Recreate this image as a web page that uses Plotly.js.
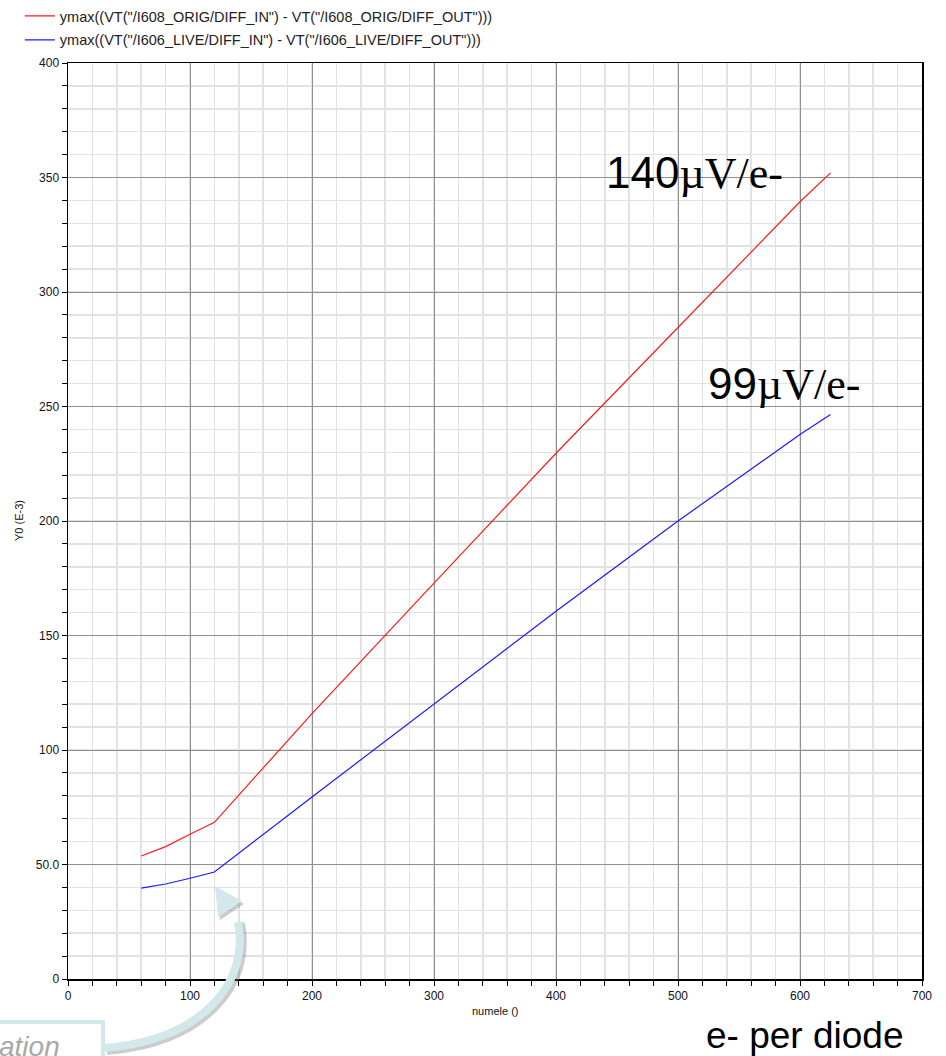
<!DOCTYPE html>
<html>
<head>
<meta charset="utf-8">
<script src="https://cdn.plot.ly/plotly-3.0.1.min.js"></script>
<style>
html,body{margin:0;padding:0;background:#fff;}
#chart{width:946px;height:1056px;}
</style>
</head>
<body>
<div id="chart"></div>
<script>
// ---- data ----
const origName = 'ymax((VT("/I608_ORIG/DIFF_IN") - VT("/I608_ORIG/DIFF_OUT")))';
const liveName = 'ymax((VT("/I606_LIVE/DIFF_IN") - VT("/I606_LIVE/DIFF_OUT")))';
const origX = [60, 80, 100, 120, 140, 200, 300, 400, 500, 600, 625];
const origY = [53.7, 57.8, 63.2, 68.4, 80.3, 115.9, 172.9, 229.6, 284.5, 339.4, 352];
const liveX = [60, 80, 100, 120, 200, 300, 400, 500, 600, 625];
const liveY = [39.7, 41.5, 44.0, 46.7, 79.5, 120.0, 160.6, 200.0, 237.8, 246.5];
const xTickVals = [0, 100, 200, 300, 400, 500, 600, 700];
const xTickText = ['0', '100', '200', '300', '400', '500', '600', '700'];
const yTickVals = [0, 50, 100, 150, 200, 250, 300, 350, 400];
const yTickText = ['0', '50.0', '100', '150', '200', '250', '300', '350', '400'];
const xTitle = 'numele ()';
const yTitle = 'Y0 (E-3)';
const origSlope = '140';
const liveSlope = '99';
const slopeUnit = 'µV/e-';
const xNote = 'e- per diode';
const calloutText = 'ation';

// ---- page geometry helpers (pixel -> paper) ----
const W = 946, H = 1056, ML = 68, MR = 24, MT = 63, MB = 77;
const PW = W - ML - MR, PH = H - MT - MB;
const px = x => (x - ML) / PW;
const py = y => (H - MB - y) / PH;
function pathPx(cmds) {
  return cmds.map(c => c[0] + c.slice(1).reduce((a, v, i) => {
    a.push(i % 2 === 0 ? px(v).toFixed(5) : py(v).toFixed(5)); return a;
  }, []).join(',')).join(' ');
}

const arrowBody = [['M',105,1048],['C',200,1040,250,985,238,922]];
const arrowHead = [['M',215,886],['L',242,901],['L',218,917],['Z']];
const arrowBodySh = [['M',107,1051],['C',203,1043,253,987,241,923]];
const arrowHeadSh = [['M',217,889],['L',244,904],['L',220,920],['Z']];

const traces = [
  {x: origX, y: origY, name: origName, type: 'scatter', mode: 'lines',
   line: {color: '#ff1a1a', width: 1.2}, legendgroup: 'a'},
  {x: liveX, y: liveY, name: liveName, type: 'scatter', mode: 'lines',
   line: {color: '#1a1aff', width: 1.2}, legendgroup: 'b'}
];

const serif = "'Liberation Serif','Times New Roman',serif";
const layout = {
  width: W, height: H,
  margin: {l: ML, r: MR, t: MT, b: MB, autoexpand: false},
  paper_bgcolor: '#fff', plot_bgcolor: '#fff',
  font: {family: 'Liberation Sans, Arial, sans-serif', color: '#111'},
  showlegend: true,
  legend: {xref: 'container', yref: 'container', x: 0.021, y: 1, xanchor: 'left', yanchor: 'top',
           font: {size: 14.5, color: '#222'}, itemwidth: 30, tracegroupgap: 2, bgcolor: 'rgba(0,0,0,0)'},
  xaxis: {
    range: [0, 700], tickvals: xTickVals, ticktext: xTickText, automargin: false,
    ticks: 'outside', ticklen: 5, tickcolor: '#000', tickfont: {size: 12, color: '#111'},
    showline: true, linecolor: '#000', linewidth: 1.5, mirror: true,
    showgrid: true, gridcolor: '#8f8f8f', gridwidth: 1, zeroline: false,
    minor: {dtick: 20, ticks: 'outside', ticklen: 5, tickcolor: '#000', showgrid: true, gridcolor: '#e2e2e2', gridwidth: 1.5},
    fixedrange: true
  },
  yaxis: {
    range: [0, 400], tickvals: yTickVals, ticktext: yTickText, automargin: false,
    ticks: 'outside', ticklen: 5, tickcolor: '#000', tickfont: {size: 12, color: '#111'},
    showline: true, linecolor: '#000', linewidth: 1.5, mirror: true,
    showgrid: true, gridcolor: '#8f8f8f', gridwidth: 1, zeroline: false,
    minor: {dtick: 10, ticks: 'outside', ticklen: 5, tickcolor: '#000', showgrid: true, gridcolor: '#e2e2e2', gridwidth: 1.5},
    fixedrange: true
  },
  shapes: [
    {type: 'rect', xref: 'paper', yref: 'paper', x0: px(-30), x1: px(103), y0: py(1022), y1: py(1090),
     line: {color: '#d3e8ea', width: 4}, fillcolor: '#ffffff', layer: 'above'},
    {type: 'path', xref: 'paper', yref: 'paper', path: pathPx(arrowBodySh),
     line: {color: 'rgba(110,110,110,0.35)', width: 8}, layer: 'above'},
    {type: 'path', xref: 'paper', yref: 'paper', path: pathPx(arrowHeadSh),
     line: {width: 0}, fillcolor: 'rgba(110,110,110,0.35)', layer: 'above'},
    {type: 'path', xref: 'paper', yref: 'paper', path: pathPx(arrowBody),
     line: {color: '#d3e8ea', width: 8}, layer: 'above'},
    {type: 'path', xref: 'paper', yref: 'paper', path: pathPx(arrowHead),
     line: {width: 0}, fillcolor: '#d3e8ea', layer: 'above'}
  ],
  annotations: [
    {xref: 'paper', yref: 'paper', x: 0.5, y: py(1011), xanchor: 'center', yanchor: 'middle', showarrow: false,
     text: xTitle, font: {size: 11, color: '#111'}},
    {xref: 'paper', yref: 'paper', x: px(19), y: 0.5, xanchor: 'center', yanchor: 'middle', showarrow: false,
     textangle: -90, text: yTitle, font: {size: 11, color: '#111'}},
    {xref: 'paper', yref: 'paper', x: px(604), y: py(200), xanchor: 'left', yanchor: 'bottom', showarrow: false,
     text: origSlope + '<span style="font-family:' + serif + '">' + slopeUnit + '</span>', font: {size: 44, color: '#000'}},
    {xref: 'paper', yref: 'paper', x: px(706), y: py(411), xanchor: 'left', yanchor: 'bottom', showarrow: false,
     text: liveSlope + '<span style="font-family:' + serif + '">' + slopeUnit + '</span>', font: {size: 44, color: '#000'}},
    {xref: 'paper', yref: 'paper', x: px(704), y: py(1058), xanchor: 'left', yanchor: 'bottom', showarrow: false,
     text: xNote, font: {size: 37, color: '#000'}},
    {xref: 'paper', yref: 'paper', x: px(-3), y: py(1046), xanchor: 'left', yanchor: 'middle', showarrow: false,
     text: '<i>' + calloutText + '</i>', font: {size: 28, color: '#a8a8a8'}}
  ]
};

Plotly.newPlot('chart', traces, layout, {displayModeBar: false, staticPlot: true});
</script>
</body>
</html>
